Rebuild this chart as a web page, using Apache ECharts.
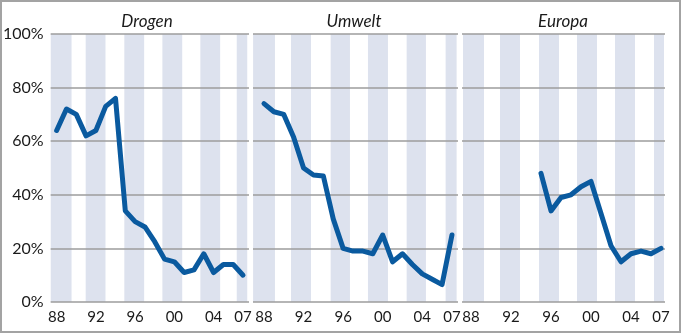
<!DOCTYPE html>
<html>
<head>
<meta charset="utf-8">
<script src="https://cdn.jsdelivr.net/npm/echarts@6/dist/echarts.min.js"></script>
<style>
html,body{margin:0;padding:0;background:#fff;}
#c{width:681px;height:333px;}
</style>
</head>
<body>
<div id="c"></div>
<script>
var years = [1988,1989,1990,1991,1992,1993,1994,1995,1996,1997,1998,1999,2000,2001,2002,2003,2004,2005,2006,2007];
var drogen = [64,72,70,62,64,73,76,34,30,28,22.5,16,15,11,12,18,11,14,14,10];
var umwelt = [74,71,70,61.5,50,47.4,47,31,20,19,19,18,25,15,18,14,10.5,8.5,6.5,25];
var europa = [null,null,null,null,null,null,null,48,34,39,40,43,45,33,21,15,18,19,18,20];
var titles = ['Drogen','Umwelt','Europa'];
var xTickYears = [1988,1992,1996,2000,2004,2007];
var yTicks = [0,20,40,60,80,100];
// shaded year bands per panel (in year units)
var bandsDrogen = [[1987.4,1989.52],[1990.96,1992.98],[1994.9,1996.92],[1998.78,2000.8],[2002.65,2004.67],[2006.36,2007.43]];
var bandsUmwelt = [[1986.9,1989.11],[1990.73,1992.75],[1994.74,1996.69],[1998.51,2000.53],[2002.42,2004.37],[2006.36,2007.47]];
var bandsEuropa = [[1987.2,1989.3],[1990.9,1992.9],[1994.8,1996.8],[1998.6,2000.6],[2002.4,2004.4],[2006.3,2007.3]];

var seriesValues = [drogen, umwelt, europa];
var bandSets = [bandsDrogen, bandsUmwelt, bandsEuropa];
var grids = [
  {left: 49, width: 200, top: 34, height: 268},
  {left: 253, width: 205, top: 34, height: 268},
  {left: 462, width: 203, top: 34, height: 268}
];
var axisRanges = [[1987.39, 2007.61], [1986.89, 2007.61], [1987.1, 2007.4]];
var titleX = [142, 349, 558];
var font = 'Lato, "Open Sans", sans-serif';
var blue = '#0a5a9f';
var gridGray = '#9c9c9c';

var option = {
  animation: false,
  backgroundColor: '#fff',
  title: titles.map(function(t, i){
    return {text: t, left: titleX[i], top: 8, textAlign: 'center',
      textStyle: {fontFamily: font, fontSize: 17, fontStyle: 'italic', fontWeight: 'normal', color: '#1a1a1a'}};
  }),
  grid: grids,
  xAxis: grids.map(function(g, i){
    return {
      type: 'value', gridIndex: i, min: axisRanges[i][0], max: axisRanges[i][1],
      splitLine: {show: false}, axisTick: {show: false},
      axisLine: {show: false},
      axisLabel: {customValues: xTickYears, margin: 8, fontFamily: font, fontSize: 15, color: '#1a1a1a',
        formatter: function(v){ return String(v).slice(2); }}
    };
  }),
  yAxis: grids.map(function(g, i){
    return {
      type: 'value', gridIndex: i, min: 0, max: 100, interval: 20, z: 3,
      axisLine: {show: false}, axisTick: {show: false},
      splitLine: {show: true, lineStyle: {color: gridGray, width: 1.5}},
      axisLabel: {show: i === 0, margin: 7, fontFamily: font, fontSize: 16, color: '#1a1a1a',
        formatter: function(v){ return v + '%'; }}
    };
  }),
  series: [],
  graphic: [{
    type: 'rect', shape: {x: 1, y: 1, width: 679, height: 331},
    style: {fill: 'none', stroke: '#a3a3a3', lineWidth: 2}, z: 100
  }]
};

seriesValues.forEach(function(vals, i){
  option.series.push({
    type: 'line', xAxisIndex: i, yAxisIndex: i, data: [], z: 1, silent: true,
    markArea: {silent: true, itemStyle: {color: '#dde2ee'},
      data: bandSets[i].map(function(b){
        return [{xAxis: Math.max(b[0], axisRanges[i][0])}, {xAxis: Math.min(b[1], axisRanges[i][1])}];
      })}
  });
  option.series.push({
    type: 'line', xAxisIndex: i, yAxisIndex: i, z: 5,
    showSymbol: false, connectNulls: false,
    lineStyle: {color: blue, width: 5, cap: 'round', join: 'round'},
    data: years.map(function(y, k){ return [y, vals[k]]; })
  });
});

var chart = echarts.init(document.getElementById('c'), null, {renderer: 'canvas'});
chart.setOption(option);
</script>
</body>
</html>
